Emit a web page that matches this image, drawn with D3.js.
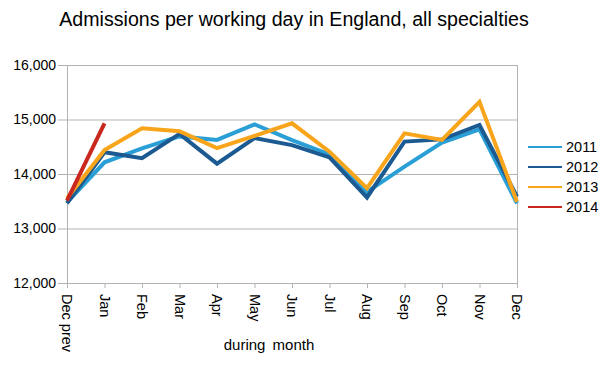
<!DOCTYPE html>
<html>
<head>
<meta charset="utf-8">
<script src="https://cdn.jsdelivr.net/npm/d3@7"></script>
<style>
  body { margin: 0; background: #fff; }
  text { font-family: "Liberation Sans", Arial, sans-serif; fill: #000; }
</style>
</head>
<body>
<div id="chart-area"></div>
<script>
const months = ["Dec prev", "Jan", "Feb", "Mar", "Apr", "May", "Jun", "Jul", "Aug", "Sep", "Oct", "Nov", "Dec"]
const years = ["2011", "2012", "2013", "2014"]
const colors = ["#2a9fd6", "#1c5a92", "#f8a51c", "#c8281e"]
const yTicks = [12000, 13000, 14000, 15000, 16000]

const v2011 = [13480, 14215, 14470, 14690, 14625, 14910, 14620, 14360, 13670, 14135, 14575, 14820, 13460]
const v2012 = [13460, 14400, 14290, 14735, 14190, 14660, 14530, 14305, 13570, 14595, 14635, 14900, 13585]
const v2013 = [13555, 14440, 14840, 14785, 14475, 14700, 14930, 14410, 13740, 14745, 14625, 15325, 13490]
const v2014 = [13510, 14930]

const series = [v2011, v2012, v2013, v2014]

const WIDTH = 606
const HEIGHT = 365
const MARGIN = { LEFT: 67, RIGHT: 89, TOP: 65, BOTTOM: 82 }
const PW = WIDTH - MARGIN.LEFT - MARGIN.RIGHT
const PH = HEIGHT - MARGIN.TOP - MARGIN.BOTTOM

const svg = d3.select("#chart-area").append("svg")
	.attr("width", WIDTH)
	.attr("height", HEIGHT)

// title
svg.append("text")
	.attr("x", 294)
	.attr("y", 26)
	.attr("font-size", "19.6px")
	.attr("text-anchor", "middle")
	.text("Admissions per working day in England, all specialties")

const g = svg.append("g")
	.attr("transform", `translate(${MARGIN.LEFT}, ${MARGIN.TOP})`)

const x = d3.scalePoint()
	.domain(months)
	.range([0, PW])

const y = d3.scaleLinear()
	.domain([12000, 16000])
	.range([PH, 0])

// grid
g.selectAll(".grid")
	.data(yTicks)
	.enter().append("line")
	.attr("x1", 0)
	.attr("x2", PW)
	.attr("y1", d => y(d) + 0.5)
	.attr("y2", d => y(d) + 0.5)
	.attr("stroke", "#b3b3b3")

g.append("line")
	.attr("x1", PW + 0.5).attr("x2", PW + 0.5)
	.attr("y1", 0).attr("y2", PH)
	.attr("stroke", "#b3b3b3")

// Y axis
const yAxisCall = d3.axisLeft(y)
	.tickValues(yTicks)
	.tickSize(9)
	.tickPadding(2)
	.tickFormat(d3.format(","))
const yAxisGroup = g.append("g").call(yAxisCall)
yAxisGroup.selectAll("path, line").attr("stroke", "#b3b3b3")
yAxisGroup.selectAll("text")
	.attr("font-size", "14px")
	.attr("font-family", "Liberation Sans, Arial, sans-serif")
	.attr("fill", "#000")

// X axis
const xAxisCall = d3.axisBottom(x)
	.tickSize(5)
	.tickSizeOuter(0)
const xAxisGroup = g.append("g")
	.attr("transform", `translate(0, ${PH})`)
	.call(xAxisCall)
xAxisGroup.selectAll("path, line").attr("stroke", "#b3b3b3")
xAxisGroup.selectAll("text")
	.attr("font-size", "14.5px")
	.attr("font-family", "Liberation Sans, Arial, sans-serif")
	.attr("fill", "#000")
	.attr("text-anchor", "start")
	.attr("transform", "rotate(90)")
	.attr("x", 11)
	.attr("y", 0)
	.attr("dy", "0.35em")

// X label
svg.append("text")
	.attr("x", 269)
	.attr("y", 350)
	.attr("font-size", "15px")
	.attr("word-spacing", "3px")
	.attr("text-anchor", "middle")
	.text("during month")

// lines
const line = d3.line()
	.x((d, i) => x(months[i]))
	.y(d => y(d))

g.selectAll(".series")
	.data(series)
	.enter().append("path")
	.attr("d", d => line(d))
	.attr("fill", "none")
	.attr("stroke", (d, i) => colors[i])
	.attr("stroke-width", 4)
	.attr("stroke-linejoin", "miter")

// legend
const legend = svg.append("g")
	.attr("transform", "translate(528, 147)")

years.forEach((yr, i) => {
	legend.append("line")
		.attr("x1", 0).attr("x2", 34)
		.attr("y1", i * 20).attr("y2", i * 20)
		.attr("stroke", colors[i])
		.attr("stroke-width", 2)
	legend.append("text")
		.attr("x", 38)
		.attr("y", i * 20)
		.attr("dy", "0.35em")
		.attr("font-size", "14.5px")
		.text(yr)
})
</script>
</body>
</html>
